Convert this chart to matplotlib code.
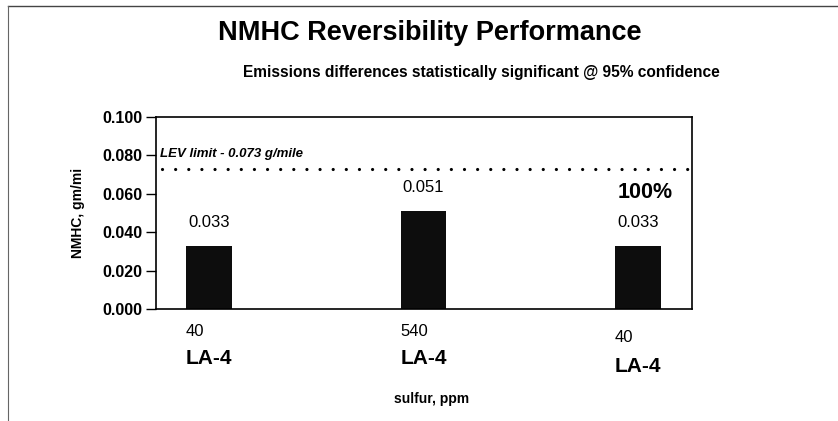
import matplotlib.pyplot as plt
from matplotlib.lines import Line2D

# 数据
sulfur = ['40', '540', '40']
cycle = ['LA-4', 'LA-4', 'LA-4']
nmhc = [0.033, 0.051, 0.033]
value_labels = ['0.033', '0.051', '0.033']
lev_limit = 0.073
yticks = [0.0, 0.02, 0.04, 0.06, 0.08, 0.10]

plt.rcParams['font.family'] = ['Liberation Sans', 'DejaVu Sans']

fig = plt.figure(figsize=(8.38, 4.21), dpi=100)
W, H = 838, 421
# 轴的位置（像素）
left, right, top, bottom = 156, 692, 117, 309
ax = fig.add_axes([left / W, 1 - bottom / H, (right - left) / W, (bottom - top) / H])

x = list(range(len(nmhc)))
bw = 0.214
ax.bar(x, nmhc, width=bw, color='#0d0d0d', zorder=2)
ax.set_xlim(-0.247, 2.252)
ax.set_ylim(0, 0.1)
ax.set_yticks(yticks)
ax.set_yticklabels(['%.3f' % v for v in yticks], fontsize=11.5, fontweight='bold')
ax.set_xticks([])
ax.tick_params(axis='y', length=7, width=1, direction='out', pad=3)
for s in ax.spines.values():
    s.set_linewidth(1.2)
ax.set_ylabel('NMHC, gm/mi', fontsize=10, fontweight='bold', labelpad=12)

# LEV 限值虚线
ax.axhline(lev_limit, xmin=0.012, xmax=1, color='black', lw=2.3,
           linestyle=(0, (0.01, 4.1)), dash_capstyle='round', zorder=3)
ax.text(0.008, 0.805, 'LEV limit - 0.073 g/mile', transform=ax.transAxes, fontsize=9.5,
        fontweight='bold', style='italic', va='center', ha='left')

# 数值标签
for i, (v, lab) in enumerate(zip(nmhc, value_labels)):
    ax.annotate(lab, (i, v), xytext=(0, 17), textcoords='offset points',
                ha='center', va='center', fontsize=12)
ax.annotate('100%', (2, nmhc[2]), xytext=(5, 38), textcoords='offset points',
            ha='center', va='center', fontsize=15.5, fontweight='bold')

# 类别标签
tr = ax.get_xaxis_transform()
sy = [331, 331, 338]
cy = [358, 358, 367]
for i in x:
    ax.text(i - bw / 2, -(sy[i] - bottom) / (bottom - top), sulfur[i], transform=tr,
            ha='left', va='center', fontsize=12)
    ax.text(i - bw / 2, -(cy[i] - bottom) / (bottom - top), cycle[i], transform=tr,
            ha='left', va='center', fontsize=15, fontweight='bold')

fig.text(432 / W, 1 - 399 / H, 'sulfur, ppm', ha='center', va='center',
         fontsize=10, fontweight='bold')

fig.text(430 / W, 1 - 33 / H, 'NMHC Reversibility Performance', ha='center',
         va='center', fontsize=19.5, fontweight='bold')
fig.text(481 / W, 1 - 73 / H, 'Emissions differences statistically significant @ 95% confidence',
         ha='center', va='center', fontsize=11.2, fontweight='bold')

# 外框线
fig.add_artist(Line2D([8 / W, 1], [1 - 6 / H, 1 - 6 / H], color='#444444', lw=1))
fig.add_artist(Line2D([8 / W, 8 / W], [1 - 6 / H, 0], color='#666666', lw=0.8))

fig.savefig('out.png', dpi=100)
